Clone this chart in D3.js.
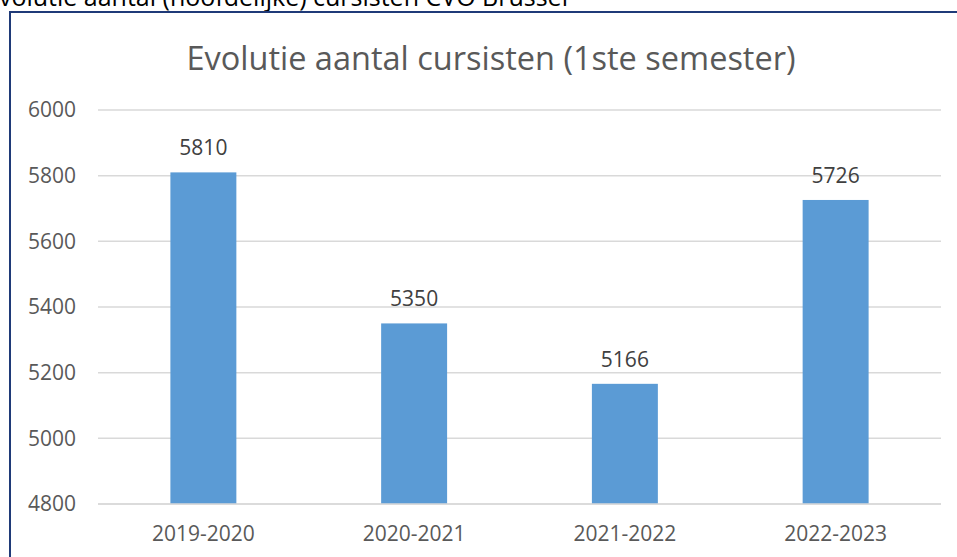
<!DOCTYPE html>
<html>
<head>
<meta charset="utf-8">
<script src="https://cdn.jsdelivr.net/npm/d3@7"></script>
<style>
  body { margin: 0; background: #fff; }
  svg { display: block; font-family: "Open Sans", "Liberation Sans", sans-serif; }
</style>
</head>
<body>
<svg width="957" height="557"></svg>
<script>
var years = ["2019-2020", "2020-2021", "2021-2022", "2022-2023"];
var cursisten = [5810, 5350, 5166, 5726];
var yTicks = [4800, 5000, 5200, 5400, 5600, 5800, 6000];

var svg = d3.select("svg");

// cut-off heading above the chart frame
svg.append("text")
    .attr("x", -15)
    .attr("y", 6)
    .attr("font-size", "25px")
    .attr("fill", "#000")
    .text("Evolutie aantal (hoofdelijke) cursisten CVO Brussel");

// chart frame
svg.append("rect")
    .attr("x", 10)
    .attr("y", 12)
    .attr("width", 1000)
    .attr("height", 600)
    .attr("fill", "#fff")
    .attr("stroke", "#1f3a78")
    .attr("stroke-width", 2);

svg.append("text")
    .attr("x", 491)
    .attr("y", 70)
    .attr("text-anchor", "middle")
    .attr("font-size", "32.5px")
    .attr("fill", "#595959")
    .text("Evolutie aantal cursisten (1ste semester)");

var plotLeft = 98, plotRight = 941, plotTop = 110, plotBottom = 504;

var x = d3.scaleBand().domain(years).range([plotLeft, plotRight])
    .paddingInner(0.687).paddingOuter(0.3435);
var y = d3.scaleLinear().domain([4800, 6000]).range([plotBottom, plotTop]);

// gridlines
svg.append("g")
    .selectAll("line")
    .data(yTicks)
    .join("line")
    .attr("x1", plotLeft)
    .attr("x2", plotRight)
    .attr("y1", function(d) { return y(d); })
    .attr("y2", function(d) { return y(d); })
    .attr("stroke", "#d9d9d9")
    .attr("stroke-width", 1.5);

// y axis labels
var yAxis = svg.append("g")
    .attr("transform", "translate(" + (plotLeft - 22) + ",0)")
    .call(d3.axisLeft(y).tickValues(yTicks).tickFormat(d3.format("d"))
        .tickSize(0).tickPadding(0));
yAxis.select(".domain").remove();
yAxis.selectAll("text")
    .attr("font-size", "21px")
    .attr("font-family", "Open Sans, Liberation Sans, sans-serif")
    .attr("fill", "#595959");

// bars
svg.append("g")
    .selectAll("rect")
    .data(cursisten)
    .join("rect")
    .attr("x", function(d, i) { return x(years[i]); })
    .attr("y", function(d) { return y(d); })
    .attr("width", x.bandwidth())
    .attr("height", function(d) { return plotBottom - y(d); })
    .attr("fill", "#5b9bd5");

// value labels
svg.append("g")
    .selectAll("text")
    .data(cursisten)
    .join("text")
    .attr("x", function(d, i) { return x(years[i]) + x.bandwidth() / 2; })
    .attr("y", function(d) { return y(d) - 17; })
    .attr("text-anchor", "middle")
    .attr("font-size", "21px")
    .attr("fill", "#404040")
    .text(function(d) { return d; });

// baseline
svg.append("line")
    .attr("x1", plotLeft)
    .attr("x2", plotRight)
    .attr("y1", plotBottom)
    .attr("y2", plotBottom)
    .attr("stroke", "#d9d9d9")
    .attr("stroke-width", 1.5);

// x axis labels
var xAxis = svg.append("g")
    .attr("transform", "translate(0," + (plotBottom + 22) + ")")
    .call(d3.axisBottom(x).tickSize(0).tickPadding(0));
xAxis.select(".domain").remove();
xAxis.selectAll("text")
    .attr("font-size", "21px")
    .attr("font-family", "Open Sans, Liberation Sans, sans-serif")
    .attr("fill", "#595959");
</script>
</body>
</html>
